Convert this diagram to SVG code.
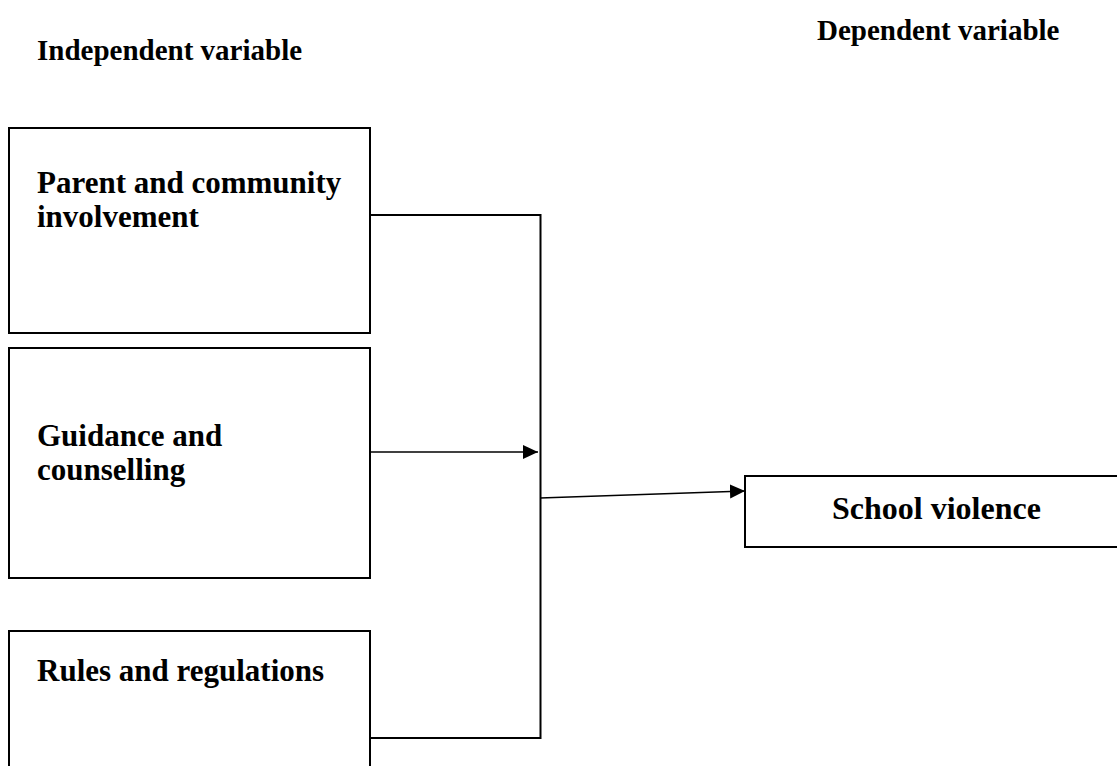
<svg xmlns="http://www.w3.org/2000/svg" width="1117" height="766" viewBox="0 0 1117 766">
  <style>
    .t { font-family: "Liberation Serif", "Times New Roman", serif; font-weight: bold; font-size: 31px; fill: #000; }
    .h { font-family: "Liberation Serif", "Times New Roman", serif; font-weight: bold; font-size: 29px; fill: #000; }
    .box { fill: #fff; stroke: #000; stroke-width: 2; }
    .conn { fill: none; stroke: #000; stroke-width: 2; }
    .arr { fill: none; stroke: #000; stroke-width: 1.5; }
  </style>
  <defs>
    <marker id="ah" markerUnits="userSpaceOnUse" markerWidth="16" markerHeight="16" refX="15" refY="7" orient="auto">
      <path d="M0,0 L15,7 L0,14 z" fill="#000"/>
    </marker>
  </defs>
  <rect width="1117" height="766" fill="#fff"/>

  <g id="title-independent">
    <text class="h" x="37" y="60">Independent variable</text>
  </g>
  <g id="title-dependent">
    <text class="h" x="817" y="40">Dependent variable</text>
  </g>

  <g id="node-parent">
    <rect class="box" x="9" y="128" width="361" height="205"/>
    <text class="t" x="37" y="193">Parent and community</text>
    <text class="t" x="37" y="227">involvement</text>
  </g>
  <g id="node-guidance">
    <rect class="box" x="9" y="348" width="361" height="230"/>
    <text class="t" x="37" y="446">Guidance and</text>
    <text class="t" x="37" y="480">counselling</text>
  </g>
  <g id="node-rules">
    <rect class="box" x="9" y="631" width="361" height="150"/>
    <text class="t" x="37" y="681">Rules and regulations</text>
  </g>
  <g id="node-school">
    <rect class="box" x="745" y="476" width="390" height="71"/>
    <text class="t" x="832" y="519" style="font-size:32px">School violence</text>
  </g>

  <g id="connectors">
    <polyline class="conn" points="370,215 540.5,215 540.5,738 370,738"/>
    <line class="arr" x1="370" y1="452" x2="538" y2="452" marker-end="url(#ah)"/>
    <line class="arr" x1="540" y1="498" x2="745" y2="491" marker-end="url(#ah)"/>
  </g>
</svg>
